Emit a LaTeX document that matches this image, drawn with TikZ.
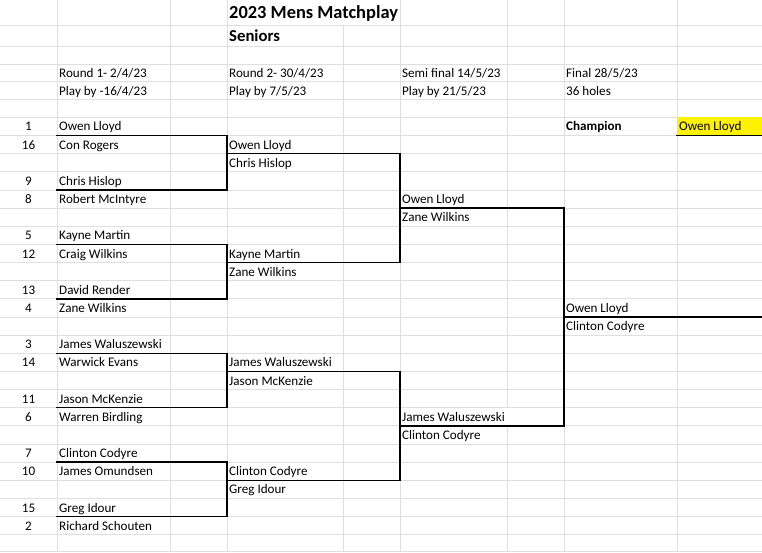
\documentclass[tikz,border=0pt]{standalone}
\usepackage{fontspec}
\setmainfont{Carlito}
\usetikzlibrary{positioning,calc}
\def \rowH {18.15}
\def \txtY {4.5}
\tikzset{
	gridline/.style= {draw=gray!25, line width=0.8pt},
	border/.style= {draw=black, line width=1.5pt, line cap=rect},
	nameblock/.style= {anchor=base west, inner sep=0pt, font=\fontsize{13.1}{14}\selectfont},
	seedblock/.style= {anchor=base, inner sep=0pt, font=\fontsize{13.1}{14}\selectfont},
	boldblock/.style= {anchor=base west, inner sep=0pt, font=\fontsize{13.1}{14}\selectfont\bfseries},
	titleblock/.style= {anchor=base west, inner sep=0pt, font=\fontsize{18.4}{20}\selectfont\bfseries},
	declare function={rb(\n)=117.3+(\n+1)*\rowH;}
}
\begin{document}
\begin{tikzpicture}[x=1pt,y=-1pt]
\useasboundingbox (0,0) rectangle (762,552);
\fill[white] (0,0) rectangle (762,552);

%%%%%%%%%%%%%%%%%%%%% Grid %%%%%%%%%%%%%%%%%%%%%
\foreach \y in {25,46.7,64,81.7,99.3,117.3,551}
	\draw[gridline] (0,\y) -- (762,\y);
\foreach \r in {0,...,22}
	\draw[gridline] (0,{rb(\r)}) -- (762,{rb(\r)});
\foreach \x in {57,170,227,400,564,677}
	\draw[gridline] (\x,0) -- (\x,552);
\draw[gridline] (343,25) -- (343,552);
\draw[gridline] (507,0) -- (507,{rb(15)});
\draw[gridline] (507,{rb(16)}) -- (507,552);

%%%%%%%%%%%%%%%%%%%%% Champion cell %%%%%%%%%%%%%%%%%%%%%
\fill[yellow] (677,117.3) rectangle (762,{rb(0)});

%%%%%%%%%%%%%%%%%%%%% Headers %%%%%%%%%%%%%%%%%%%%%
\node [titleblock] (title) at (229,18.6) {2023 Mens Matchplay};
\node [titleblock, font=\fontsize{16.7}{18}\selectfont\bfseries] (grade) at (229,41) {Seniors};
\node [nameblock] (head1) at (59,77.5) {Round 1- 2/4/23};
\node [nameblock] (play1) at (59,95.2) {Play by -16/4/23};
\node [nameblock] (head2) at (229,77.5) {Round 2- 30/4/23};
\node [nameblock] (play2) at (229,95.2) {Play by 7/5/23};
\node [nameblock] (head3) at (402,77.5) {Semi final 14/5/23};
\node [nameblock] (play3) at (402,95.2) {Play by 21/5/23};
\node [nameblock] (head4) at (566,77.5) {Final 28/5/23};
\node [nameblock] (play4) at (566,95.2) {36 holes};

%%%%%%%%%%%%%%%%%%%%% Round 1 %%%%%%%%%%%%%%%%%%%%%
\node [seedblock] (s1) at (28.5,{rb(0)-\txtY}) {1};
\node [nameblock] (p1) at (59,{rb(0)-\txtY}) {Owen Lloyd};
\node [seedblock] (s16) at (28.5,{rb(1)-\txtY}) {16};
\node [nameblock] (p16) at (59,{rb(1)-\txtY}) {Con Rogers};
\node [seedblock] (s9) at (28.5,{rb(3)-\txtY}) {9};
\node [nameblock] (p9) at (59,{rb(3)-\txtY}) {Chris Hislop};
\node [seedblock] (s8) at (28.5,{rb(4)-\txtY}) {8};
\node [nameblock] (p8) at (59,{rb(4)-\txtY}) {Robert McIntyre};
\node [seedblock] (s5) at (28.5,{rb(6)-\txtY}) {5};
\node [nameblock] (p5) at (59,{rb(6)-\txtY}) {Kayne Martin};
\node [seedblock] (s12) at (28.5,{rb(7)-\txtY}) {12};
\node [nameblock] (p12) at (59,{rb(7)-\txtY}) {Craig Wilkins};
\node [seedblock] (s13) at (28.5,{rb(9)-\txtY}) {13};
\node [nameblock] (p13) at (59,{rb(9)-\txtY}) {David Render};
\node [seedblock] (s4) at (28.5,{rb(10)-\txtY}) {4};
\node [nameblock] (p4) at (59,{rb(10)-\txtY}) {Zane Wilkins};
\node [seedblock] (s3) at (28.5,{rb(12)-\txtY}) {3};
\node [nameblock] (p3) at (59,{rb(12)-\txtY}) {James Waluszewski};
\node [seedblock] (s14) at (28.5,{rb(13)-\txtY}) {14};
\node [nameblock] (p14) at (59,{rb(13)-\txtY}) {Warwick Evans};
\node [seedblock] (s11) at (28.5,{rb(15)-\txtY}) {11};
\node [nameblock] (p11) at (59,{rb(15)-\txtY}) {Jason McKenzie};
\node [seedblock] (s6) at (28.5,{rb(16)-\txtY}) {6};
\node [nameblock] (p6) at (59,{rb(16)-\txtY}) {Warren Birdling};
\node [seedblock] (s7) at (28.5,{rb(18)-\txtY}) {7};
\node [nameblock] (p7) at (59,{rb(18)-\txtY}) {Clinton Codyre};
\node [seedblock] (s10) at (28.5,{rb(19)-\txtY}) {10};
\node [nameblock] (p10) at (59,{rb(19)-\txtY}) {James Omundsen};
\node [seedblock] (s15) at (28.5,{rb(21)-\txtY}) {15};
\node [nameblock] (p15) at (59,{rb(21)-\txtY}) {Greg Idour};
\node [seedblock] (s2) at (28.5,{rb(22)-\txtY}) {2};
\node [nameblock] (p2) at (59,{rb(22)-\txtY}) {Richard Schouten};

%%%%%%%%%%%%%%%%%%%%% Round 2 %%%%%%%%%%%%%%%%%%%%%
\node [nameblock] (q1) at (229,{rb(1)-\txtY}) {Owen Lloyd};
\node [nameblock] (q2) at (229,{rb(2)-\txtY}) {Chris Hislop};
\node [nameblock] (q3) at (229,{rb(7)-\txtY}) {Kayne Martin};
\node [nameblock] (q4) at (229,{rb(8)-\txtY}) {Zane Wilkins};
\node [nameblock] (q5) at (229,{rb(13)-\txtY}) {James Waluszewski};
\node [nameblock] (q6) at (229,{rb(14)-\txtY}) {Jason McKenzie};
\node [nameblock] (q7) at (229,{rb(19)-\txtY}) {Clinton Codyre};
\node [nameblock] (q8) at (229,{rb(20)-\txtY}) {Greg Idour};

%%%%%%%%%%%%%%%%%%%%% Semi final %%%%%%%%%%%%%%%%%%%%%
\node [nameblock] (sf1) at (402,{rb(4)-\txtY}) {Owen Lloyd};
\node [nameblock] (sf2) at (402,{rb(5)-\txtY}) {Zane Wilkins};
\node [nameblock] (sf3) at (402,{rb(16)-\txtY}) {James Waluszewski};
\node [nameblock] (sf4) at (402,{rb(17)-\txtY}) {Clinton Codyre};

%%%%%%%%%%%%%%%%%%%%% Final %%%%%%%%%%%%%%%%%%%%%
\node [nameblock] (f1) at (566,{rb(10)-\txtY}) {Owen Lloyd};
\node [nameblock] (f2) at (566,{rb(11)-\txtY}) {Clinton Codyre};
\node [boldblock] (champ) at (566,{rb(0)-\txtY}) {Champion};
\node [nameblock] (winner) at (679,{rb(0)-\txtY}) {Owen Lloyd};

%%%%%%%%%%%%%%%%%%%%% Brackets %%%%%%%%%%%%%%%%%%%%%
\draw [border] (57,{rb(0)}) -| (227,{rb(3)}) -- (57,{rb(3)});
\draw [border] (57,{rb(6)}) -| (227,{rb(9)}) -- (57,{rb(9)});
\draw [border] (57,{rb(12)}) -| (227,{rb(15)}) -- (57,{rb(15)});
\draw [border] (57,{rb(18)}) -| (227,{rb(21)}) -- (57,{rb(21)});
\draw [border] (227,{rb(1)}) -| (400,{rb(7)}) -- (227,{rb(7)});
\draw [border] (227,{rb(13)}) -| (400,{rb(19)}) -- (227,{rb(19)});
\draw [border] (400,{rb(4)}) -| (564,{rb(16)}) -- (400,{rb(16)});
\draw [border] (564,{rb(10)}) -- (762,{rb(10)});
\draw [border] (677,{rb(0)}) -- (762,{rb(0)});

\end{tikzpicture}
\end{document}
